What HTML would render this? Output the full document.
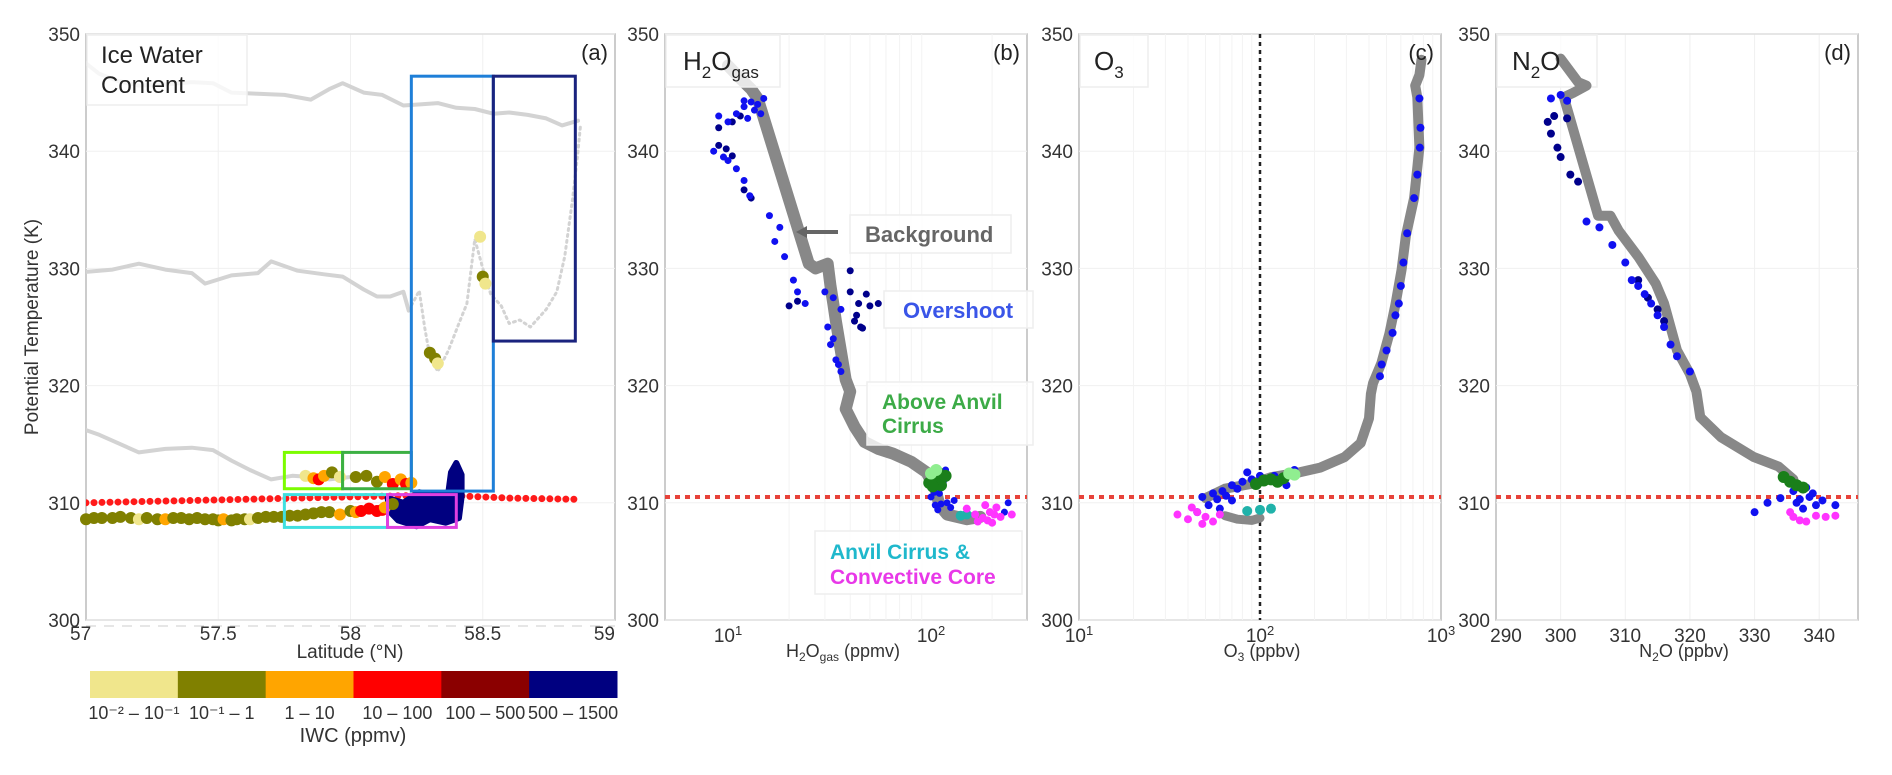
<!DOCTYPE html>
<html><head><meta charset="utf-8">
<style>
html,body{margin:0;padding:0;background:#fff;}
svg text{font-family:"Liberation Sans",sans-serif;}
</style></head>
<body>
<svg id="fig" width="1892" height="770" viewBox="0 0 1892 770" xmlns="http://www.w3.org/2000/svg">
<rect width="1892" height="770" fill="#fff"/>
<g id="g"></g>
</svg>
<script>
// ---------- DATA ----------
const iwcColors = ['#f0e68c','#808000','#ffa500','#ff0000','#8b0000','#000080'];
const iwcLabels = ['10⁻² – 10⁻¹','10⁻¹ – 1','1 – 10','10 – 100','100 – 500','500 – 1500'];
const latTicks = [57, 57.5, 58, 58.5, 59];
const thetaTicks = [300, 310, 320, 330, 340, 350];
const n2oTicks = [290, 300, 310, 320, 330, 340];
// panel a gray flight legs [lat, theta]
const legTop = [[57.0,347.5],[57.05,346.6],[57.12,346.0],[57.2,345.6],[57.3,345.7],[57.4,345.9],[57.48,345.8],[57.55,345.0],[57.65,344.9],[57.75,344.8],[57.85,344.4],[57.92,345.3],[57.97,345.8],[58.05,345.0],[58.12,344.8],[58.2,343.9],[58.27,344.0],[58.33,344.1],[58.4,343.7],[58.47,343.6],[58.54,343.2],[58.6,343.3],[58.67,343.1],[58.74,342.8],[58.8,342.2],[58.86,342.6]];
const legMid = [[57.0,329.7],[57.1,329.9],[57.2,330.4],[57.3,329.9],[57.4,329.6],[57.45,328.7],[57.55,329.4],[57.65,329.6],[57.7,330.6],[57.8,329.8],[57.9,329.5],[57.97,329.3],[58.05,328.2],[58.1,327.6],[58.15,327.6],[58.2,328.0],[58.22,326.4]];
const legMidDotted = [[58.22,326.4],[58.26,328.1],[58.28,325.0],[58.3,322.5],[58.33,321.2],[58.37,323.0],[58.41,325.3],[58.44,327.0],[58.47,332.5],[58.5,330.0],[58.53,327.8],[58.57,326.8],[58.6,325.3],[58.64,325.6],[58.68,325.0],[58.74,326.5],[58.78,328.0],[58.81,331.0],[58.84,336.0],[58.86,340.0],[58.87,342.3]];
const legLow = [[57.0,316.2],[57.05,315.8],[57.1,315.3],[57.2,314.3],[57.3,314.6],[57.4,314.7],[57.48,314.5],[57.55,313.6],[57.62,312.8],[57.7,312.0],[57.78,312.3],[57.85,312.2],[57.92,312.0],[58.0,312.2]];
// IWC colored points [lat, theta, category]
const iwcPts = [[57.0,308.6,1],[57.03,308.7,1],[57.06,308.7,1],[57.1,308.7,1],[57.13,308.8,1],[57.17,308.7,1],[57.2,308.6,0],[57.23,308.7,1],[57.27,308.6,1],[57.3,308.6,2],[57.33,308.7,1],[57.36,308.7,1],[57.39,308.6,1],[57.42,308.7,1],[57.45,308.6,1],[57.48,308.6,1],[57.5,308.5,1],[57.52,308.6,2],[57.55,308.5,1],[57.57,308.6,1],[57.6,308.6,1],[57.62,308.6,0],[57.65,308.7,1],[57.68,308.8,1],[57.71,308.8,1],[57.74,308.8,1],[57.77,308.9,1],[57.8,308.9,1],[57.83,309.0,1],[57.86,309.1,1],[57.89,309.2,1],[57.92,309.2,1],[57.96,309.0,2],[58.0,309.3,1],[58.02,309.2,2],[58.04,309.3,3],[58.07,309.5,3],[58.1,309.3,3],[58.12,309.4,3],[58.13,309.6,2],[58.16,309.9,1],
[57.83,312.3,0],[57.86,312.1,2],[57.88,312.0,3],[57.9,312.3,2],[57.93,312.6,1],[57.96,312.2,0],
[58.02,312.2,1],[58.06,312.3,1],[58.1,311.8,1],[58.13,312.2,2],[58.16,311.6,3],[58.19,312.0,2],[58.21,311.6,3],[58.23,311.7,2],
[58.3,322.8,1],[58.32,322.3,1],[58.33,321.9,0],[58.49,332.7,0],[58.5,329.3,1],[58.51,328.7,0]];
const redTrack = [[57.0,310.0],[57.2,310.1],[57.4,310.2],[57.6,310.3],[57.8,310.4],[58.0,310.5],[58.2,310.6],[58.4,310.6],[58.6,310.4],[58.86,310.3]];
const navyBlob = [[58.14,310.4],[58.2,310.0],[58.26,310.9],[58.3,310.6],[58.37,310.9],[58.38,312.6],[58.4,313.4],[58.42,312.4],[58.42,310.5],[58.41,308.7],[58.36,308.3],[58.3,308.6],[58.25,308.0],[58.18,308.5],[58.15,309.2]];
// boxes [lat0, lat1, th0, th1, color]
const regionBoxes = [[57.75,57.97,311.2,314.3,'#7cfc00'],[57.97,58.23,311.2,314.3,'#3cb043'],[57.75,58.14,307.9,310.7,'#40e0e0'],[58.14,58.40,307.9,310.7,'#e040e0'],[58.23,58.54,311.0,346.4,'#1e7fd8'],[58.54,58.85,323.8,346.4,'#1a237e']];
const tropopause = 310.5;

// panel b: H2O (ppmv) vs theta
const h2oGray = [[10,347.3],[11.5,346.2],[13,345.3],[14,344.5],[25,330.4],[27,330.0],[31,330.4],[32,328.5],[33,327.0],[34,325.5],[38,320.5],[40,319.5],[38,318.0],[42,316.5],[47,315.2],[55,314.6],[65,314.2],[80,313.5],[95,312.6],[105,311.2],[110,309.8],[120,309.0],[150,308.6],[175,308.8]];
const h2oBlue = [[9,343.0],[10,342.5],[11,343.2],[12,343.8],[13,344.2],[14,344.0],[15,344.5],[12.5,342.8],[13.5,343.5],[14.5,343.2],[12,344.3],[8.5,340.0],[9.5,339.5],[10,339.2],[11,338.5],[12,337.5],[12.8,336.2],[16,334.5],[18,333.5],[17,332.3],[19,331.0],[21,329.0],[24,327.0],[22,328.0],[30,328.0],[33,327.5],[36,326.5],[31,325.0],[32,323.5],[34,322.2],[36,321.2],[33,324.0],[35,321.8],[100,310.5],[105,309.8],[110,310.8],[115,311.8],[120,310.0],[108,309.4],[125,309.6],[130,310.2],[118,312.8],[104,310.9],[112,309.9],[240,310.0],[230,309.2]];
const h2oNavy = [[9,342.0],[10.5,342.5],[11.5,343.0],[9.8,340.2],[10.5,339.6],[9,340.5],[12,336.7],[13,336.0],[20,326.8],[22,327.2],[40,328.0],[44,327.0],[48,327.8],[50,326.8],[42,325.5],[45,325.0],[55,327.0],[40,329.8],[43,326.0],[46,324.9]];
const h2oGreen = [[98,311.7],[105,312.0],[112,311.5],[118,312.3],[108,312.6],[102,311.4]];
const h2oLGreen = [[100,312.5],[106,312.8]];
const h2oMag = [[150,309.5],[165,309.0],[180,308.7],[195,309.2],[200,308.3],[210,309.6],[220,308.8],[185,309.8],[250,309.0],[170,308.4],[205,309.0],[190,308.5]];
const h2oCyan = [[140,308.9],[150,309.0]];

// panel c: O3 (ppbv)
const o3Gray = [[780,347.8],[760,346.5],[720,345.6],[740,344.6],[760,340.3],[710,336.0],[640,332.8],[606,329.9],[560,326.9],[518,324.4],[468,321.9],[421,320.2],[410,319.3],[400,317.2],[360,315.1],[293,313.9],[215,313.0],[166,312.6],[116,312.2],[89,311.6],[64,311.2],[50,310.4]];
const o3GrayLow = [[64,308.9],[75,308.6],[90,308.5],[100,308.7]];
const o3Blue = [[760,344.5],[770,342.0],[764,340.3],[740,338.0],[710,336.0],[650,333.0],[620,330.5],[600,328.5],[585,327.0],[560,326.0],[540,324.5],[500,323.0],[470,321.8],[460,320.8],[48,310.5],[55,310.8],[62,311.0],[70,311.5],[80,311.8],[90,312.0],[100,312.3],[52,309.8],[60,309.5],[70,310.2],[45,309.2],[120,312.3],[140,311.5],[155,312.8],[85,312.6],[58,310.3],[65,310.6],[75,311.2]];
const o3Green = [[95,311.6],[105,311.9],[115,312.0],[125,311.8],[135,312.1]];
const o3LGreen = [[145,312.5],[155,312.4]];
const o3Mag = [[35,309.0],[40,308.6],[45,309.2],[50,308.8],[55,308.4],[42,309.6],[60,309.0],[48,308.2]];
const o3Cyan = [[85,309.3],[100,309.4],[115,309.5]];
const o3RefLine = 100;

// panel d: N2O (ppbv)
const n2oGray = [[300,347.9],[302.7,345.9],[304,345.6],[302,345.0],[300.5,344.6],[305.8,334.5],[307.7,334.5],[309,333.2],[312,331.0],[314.7,328.7],[316,327.0],[318,323.0],[320,321.0],[321,319.5],[321.6,317.3],[324.8,315.6],[329.9,313.9],[333.7,313.1],[336,312.0]];
const n2oBlue = [[298.5,344.5],[300,344.8],[301,344.3],[304,334.0],[306,333.5],[308,332.0],[310,330.5],[311,329.0],[312,328.5],[313,327.8],[314,327.0],[315,326.0],[316,325.0],[317,323.5],[318,322.5],[320,321.2],[336.5,310.0],[337.5,309.5],[338.5,310.5],[339.5,309.8],[340.5,310.2],[334,310.4],[332,310.0],[330,309.2],[342.5,309.8],[336,311.0],[338,311.3],[339,310.8],[337,310.3]];
const n2oNavy = [[298,342.5],[299,343.0],[301,342.8],[298.5,341.5],[299.5,340.3],[300,339.5],[301.5,338.0],[302.7,337.4],[312,329.0],[313.5,327.5],[315,326.5],[316,325.5]];
const n2oGreen = [[334.5,312.2],[335.5,311.8],[336.5,311.5],[337.5,311.3]];
const n2oMag = [[336,308.8],[337,308.5],[338,308.4],[339.5,308.9],[341,308.8],[342.5,308.9],[335.5,309.2]];

// ---------- RENDER ----------
const NS='http://www.w3.org/2000/svg';
const G=document.getElementById('g');
function mk(tag, attrs, parent){const e=document.createElementNS(NS,tag);for(const k in attrs)e.setAttribute(k,attrs[k]);(parent||G).appendChild(e);return e;}
const Y0=620, Y1=34;
function yT(t){return Y0-(t-300)*(Y0-Y1)/50;}
function linX(x0,x1,d0,d1){return v=>x0+(v-d0)*(x1-x0)/(d1-d0);}
function logX(x0,x1,d0,d1){return v=>x0+(Math.log10(v)-Math.log10(d0))*(x1-x0)/(Math.log10(d1)-Math.log10(d0));}

const panels={
 a:{x0:86,x1:615,sx:linX(86,615,57,59)},
 b:{x0:665,x1:1027,sx:logX(728,931,10,100)},
 c:{x0:1079,x1:1441,sx:logX(1079,1441,10,1000)},
 d:{x0:1496,x1:1858,sx:linX(1496,1858,290,346)}
};

function frame(p,name){
  const f=mk('rect',{x:p.x0,y:Y1,width:p.x1-p.x0,height:Y0-Y1,fill:'none',stroke:'#bbb','stroke-width':1.5});
  
  
  thetaTicks.forEach(t=>{
    const gl=mk('line',{x1:p.x0,x2:p.x1,y1:yT(t),y2:yT(t),stroke:'#f0f0f0','stroke-width':1});
    
    
    const tx=mk('text',{x:p.x0-6,y:yT(t)+7,'text-anchor':'end','font-size':19,fill:'#333'});
    tx.textContent=t;
    
    
  });
}
function clip(p,id){const cp=mk('clipPath',{id:id});mk('rect',{x:p.x0,y:Y1,width:p.x1-p.x0,height:Y0-Y1},cp);}
function polyline(p,data,color,w,name,clipId,extra){
  const pts=data.map(d=>p.sx(d[0]).toFixed(1)+','+yT(d[1]).toFixed(1)).join(' ');
  const a={points:pts,fill:'none',stroke:color,'stroke-width':w,'stroke-linejoin':'round','stroke-linecap':'round'};
  if(clipId)a['clip-path']='url(#'+clipId+')';
  Object.assign(a,extra||{});
  const e=mk('polyline',a);
  
  
  return e;
}
function scatter(p,data,color,r,name){
  data.forEach(d=>{
    const c=mk('circle',{cx:p.sx(d[0]),cy:yT(d[1]),r:r,fill:color});
    
    
  });
}
function label(x,y,txt,size,opts){
  const t=mk('text',Object.assign({x:x,y:y,'font-size':size,fill:'#222'},opts||{}));
  t.textContent=txt;return t;
}
function tropo(p,name){
  const l=mk('line',{x1:p.x0,x2:p.x1,y1:yT(tropopause),y2:yT(tropopause),stroke:'#e8433a','stroke-width':4,'stroke-dasharray':'5,5'});
  
  
}
function titleBox(x,y,w,h,name){
  const r=mk('rect',{x:x,y:y,width:w,height:h,fill:'#fff','fill-opacity':0.8,stroke:'#eee','stroke-width':1.5});
  
  
}

// ----- Panel a -----
(function(){
  const p=panels.a;clip(p,'ca');
  latTicks.forEach(v=>{
    const gl=mk('line',{x1:p.sx(v),x2:p.sx(v),y1:Y1,y2:Y0,stroke:'#f0f0f0'});
    
    
  });
  frame(p,'panel-a');
  const dl=mk('line',{x1:p.x0,x2:p.x1,y1:Y0+6,y2:Y0+6,stroke:'#ccc','stroke-dasharray':'10,8'});
  
  
  latTicks.forEach(v=>{
    const t=label(p.sx(v),Y0+20,String(v),19,{'text-anchor':v===57?'start':(v===59?'end':'middle'),fill:'#333'});
    if(v===57)t.setAttribute('x',p.sx(v)-16);
    
    
  });
  polyline(p,legTop,'#d3d3d3',4,'flight-leg-top','ca');
  polyline(p,legMid,'#d3d3d3',4,'flight-leg-mid','ca');
  polyline(p,legMidDotted,'#d3d3d3',3,'flight-leg-mid-dotted','ca',{'stroke-dasharray':'2,4'});
  polyline(p,legLow,'#d3d3d3',4,'flight-leg-low','ca');
  polyline(p,redTrack,'#ff1a1a',7,'red-iwc-track','ca',{'stroke-dasharray':'0,8'});
  const nb=mk('polygon',{points:navyBlob.map(d=>p.sx(d[0])+','+yT(d[1])).join(' '),fill:'#000080',stroke:'#000080','stroke-width':6,'stroke-linejoin':'round'});
  
  
  iwcPts.forEach(d=>{
    const c=mk('circle',{cx:p.sx(d[0]),cy:yT(d[1]),r:6,fill:iwcColors[d[2]]});
    
    
  });
  regionBoxes.forEach(b=>{
    const r=mk('rect',{x:p.sx(b[0]),y:yT(b[3]),width:p.sx(b[1])-p.sx(b[0]),height:yT(b[2])-yT(b[3]),fill:'none',stroke:b[4],'stroke-width':3});
    
    
  });
  titleBox(87,35,160,70,'panel-a-title-box');
  const t1=label(101,63,'Ice Water',24);
  const t2=label(101,93,'Content',24);
  const pl=label(608,60,'(a)',22,{'text-anchor':'end'});
  const xl=label(350,658,'Latitude (°N)',19,{'text-anchor':'middle',fill:'#333'});
  const yl=label(0,0,'Potential Temperature (K)',19,{'text-anchor':'middle',fill:'#333',transform:'translate(38,327) rotate(-90)'});
  
  // colorbar
  const cbx=90,cbw=(617-90)/6;
  iwcColors.forEach((c,i)=>{
    const r=mk('rect',{x:cbx+i*cbw,y:671,width:cbw+0.5,height:27,fill:c});
    
    
    const t=label(cbx+i*cbw+cbw/2,719,iwcLabels[i],18,{'text-anchor':'middle',fill:'#333'});
    
    
  });
  const ct=label(353,742,'IWC (ppmv)',20,{'text-anchor':'middle',fill:'#333'});
  
})();

function logTicks(p,exps){
  exps.forEach(e=>{
    const v=Math.pow(10,e),x=p.sx(v);
    for(let k=2;k<10;k++){const xm=p.sx(k*v);if(xm>p.x0&&xm<p.x1){const m=mk('line',{x1:xm,x2:xm,y1:Y1,y2:Y0,stroke:'#f3f3f3'});}}
    const t=mk('text',{x:x,y:Y0+22,'text-anchor':'middle','font-size':19,fill:'#333'});
    
    
    const a=mk('tspan',{},t);a.textContent='10';
    const b=mk('tspan',{dy:-7,'font-size':13},t);b.textContent=String(e);
  });
}

// ----- Panel b -----
(function(){
  const p=panels.b;clip(p,'cb');
  frame(p,'panel-b');
  logTicks(p,[1,2]);
  tropo(p,'tropopause-line-b');
  polyline(p,h2oGray,'#888',12,'background-cloud-b','cb');
  scatter(p,h2oNavy,'#00008b',3.5,'overshoot-point-dark');
  scatter(p,h2oBlue,'#1010f0',3.5,'overshoot-point');
  scatter(p,h2oGreen,'#1a7f1a',6,'above-anvil-point');
  scatter(p,h2oLGreen,'#90ee90',6,'above-anvil-point-light');
  scatter(p,h2oCyan,'#20b2aa',5,'anvil-cirrus-point');
  scatter(p,h2oMag,'#ff33ff',4,'convective-core-point');
  titleBox(666,35,114,52,'panel-b-title-box');
  const t=mk('text',{x:683,y:70,'font-size':26,fill:'#222'});
  
  mk('tspan',{},t).textContent='H';mk('tspan',{dy:8,'font-size':17},t).textContent='2';mk('tspan',{dy:-8},t).textContent='O';mk('tspan',{dy:8,'font-size':17},t).textContent='gas';
  const pl=label(1020,60,'(b)',22,{'text-anchor':'end'});
  const xt=mk('text',{x:843,y:657,'text-anchor':'middle','font-size':18,fill:'#333'});
  
  mk('tspan',{},xt).textContent='H';mk('tspan',{dy:4,'font-size':12},xt).textContent='2';mk('tspan',{dy:-4},xt).textContent='O';mk('tspan',{dy:4,'font-size':12},xt).textContent='gas';mk('tspan',{dy:-4},xt).textContent=' (ppmv)';
  // annotations
  const ar=mk('line',{x1:838,x2:804,y1:232,y2:232,stroke:'#666','stroke-width':4});
  const ah=mk('polygon',{points:'796,232 807,226 807,238',fill:'#666'});
  [[850,215,161,38,'background-label-box'],[884,291,149,37,'overshoot-label-box'],[867,382,166,63,'above-anvil-label-box'],[815,531,207,63,'anvil-core-label-box']].forEach(b=>titleBox(b[0],b[1],b[2],b[3],b[4]));
  const l1=label(865,242,'Background',22,{'font-weight':'bold',fill:'#666'});
  const l2=label(903,318,'Overshoot',22,{'font-weight':'bold',fill:'#3a55e8'});
  const l3=label(882,409,'Above Anvil',21,{'font-weight':'bold',fill:'#3cab47'});
  const l4=label(882,433,'Cirrus',21,{'font-weight':'bold',fill:'#3cab47'});
  const l5=label(830,559,'Anvil Cirrus &',21,{'font-weight':'bold',fill:'#1fb8cc'});
  const l6=label(830,584,'Convective Core',21,{'font-weight':'bold',fill:'#e838e8'});
})();

// ----- Panel c -----
(function(){
  const p=panels.c;clip(p,'cc');
  frame(p,'panel-c');
  logTicks(p,[1,2,3]);
  tropo(p,'tropopause-line-c');
  const rl=mk('line',{x1:p.sx(o3RefLine),x2:p.sx(o3RefLine),y1:Y1,y2:Y0,stroke:'#222','stroke-width':2.5,'stroke-dasharray':'4,4'});
  
  polyline(p,o3Gray,'#888',10,'background-cloud-c','cc');
  polyline(p,o3GrayLow,'#888',9,'background-cloud-c-low','cc');
  scatter(p,o3Blue,'#1010f0',4,'overshoot-point');
  scatter(p,o3Green,'#1a7f1a',6,'above-anvil-point');
  scatter(p,o3LGreen,'#90ee90',6,'above-anvil-point-light');
  scatter(p,o3Mag,'#ff33ff',4,'convective-core-point');
  scatter(p,o3Cyan,'#20b2aa',5,'anvil-cirrus-point');
  titleBox(1080,35,68,52,'panel-c-title-box');
  const t=mk('text',{x:1094,y:70,'font-size':26,fill:'#222'});
  
  mk('tspan',{},t).textContent='O';mk('tspan',{dy:8,'font-size':17},t).textContent='3';
  const pl=label(1434,60,'(c)',22,{'text-anchor':'end'});
  const xt=mk('text',{x:1262,y:657,'text-anchor':'middle','font-size':18,fill:'#333'});
  
  mk('tspan',{},xt).textContent='O';mk('tspan',{dy:4,'font-size':12},xt).textContent='3';mk('tspan',{dy:-4},xt).textContent=' (ppbv)';
})();

// ----- Panel d -----
(function(){
  const p=panels.d;clip(p,'cd');
  n2oTicks.forEach(v=>{
    const gl=mk('line',{x1:p.sx(v),x2:p.sx(v),y1:Y1,y2:Y0,stroke:'#f0f0f0'});
    
  });
  frame(p,'panel-d');
  n2oTicks.forEach(v=>{
    const t=label(p.sx(v)+(v===290?10:0),Y0+22,String(v),19,{'text-anchor':'middle',fill:'#333'});
    
  });
  tropo(p,'tropopause-line-d');
  titleBox(1497,35,100,52,'panel-d-title-box');
  polyline(p,n2oGray,'#888',10,'background-cloud-d','cd');
  scatter(p,n2oNavy,'#00008b',4,'overshoot-point-dark');
  scatter(p,n2oBlue,'#1010f0',4,'overshoot-point');
  scatter(p,n2oGreen,'#1a7f1a',6,'above-anvil-point');
  scatter(p,n2oMag,'#ff33ff',4,'convective-core-point');
  const t=mk('text',{x:1512,y:70,'font-size':26,fill:'#222'});
  
  mk('tspan',{},t).textContent='N';mk('tspan',{dy:8,'font-size':17},t).textContent='2';mk('tspan',{dy:-8},t).textContent='O';
  const pl=label(1851,60,'(d)',22,{'text-anchor':'end'});
  const xt=mk('text',{x:1684,y:657,'text-anchor':'middle','font-size':18,fill:'#333'});
  
  mk('tspan',{},xt).textContent='N';mk('tspan',{dy:4,'font-size':12},xt).textContent='2';mk('tspan',{dy:-4},xt).textContent='O (ppbv)';
})();
</script>
</body></html>
